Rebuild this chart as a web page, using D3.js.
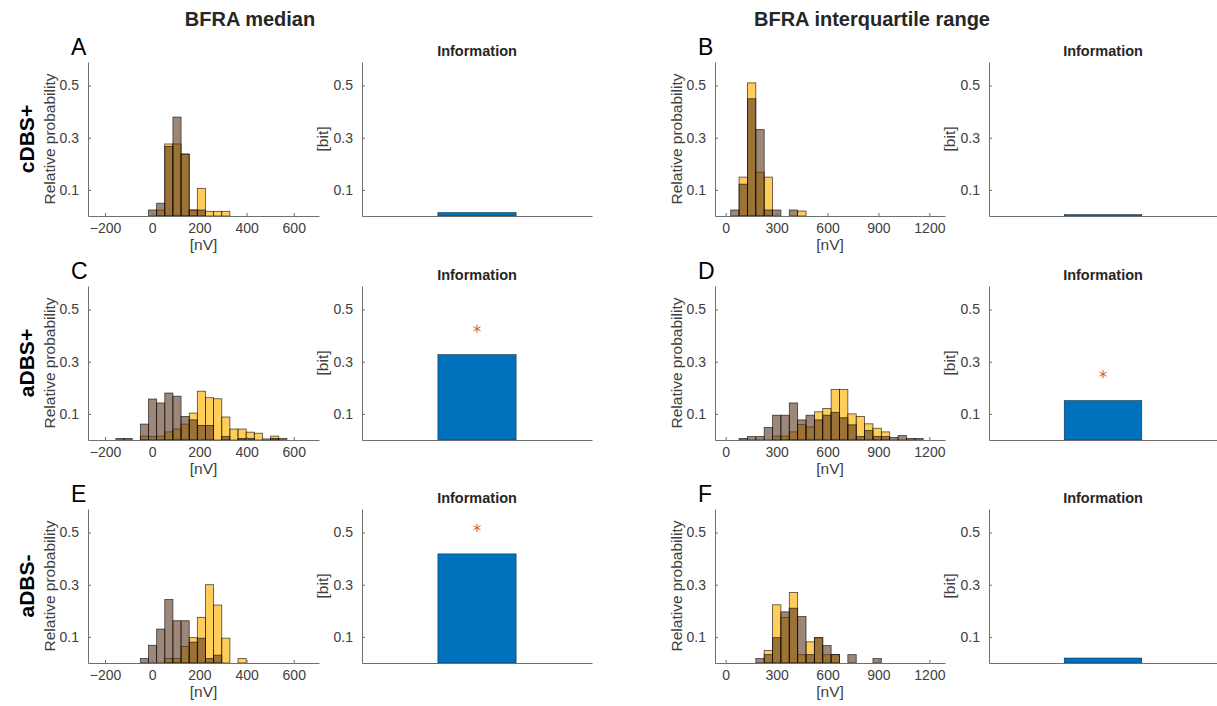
<!DOCTYPE html>
<html>
<head>
<meta charset="utf-8">
<script src="https://cdn.jsdelivr.net/npm/d3@7"></script>
<style>
  body { margin: 0; background: #fff; }
  svg { display: block; font-family: "Liberation Sans", Arial, sans-serif; }
  .tick text { fill: #404040; }
</style>
</head>
<body>
<div id="chart"></div>
<script>
// labels
var colTitles = ["BFRA median", "BFRA interquartile range"];
var rowNames = ["cDBS+", "aDBS+", "aDBS-"];
var panelLetters = ["A", "B", "C", "D", "E", "F"];

// tick values
var yTicks = [0.1, 0.3, 0.5];
var medianTicks = [-200, 0, 200, 400, 600];
var iqrTicks = [0, 300, 600, 900, 1200];

// histogram bin grids (nV)
var medianFirstEdge = -15.6, medianBinWidth = 34.5;
var iqrFirstEdge = 29.5, iqrBinWidth = 49.3;

// relative probabilities, one value per bin starting at bin index *_start
var histA_start = 0;
var histA_brown  = [0.023, 0.049, 0.267, 0.379, 0.238, 0.023, 0.023, 0, 0, 0];
var histA_yellow = [0, 0.023, 0.276, 0.276, 0.236, 0.023, 0.106, 0.018, 0.018, 0.018];

var histB_start = 0;
var histB_brown  = [0.023, 0.122, 0.449, 0.331, 0.023, 0.023, 0, 0.023, 0];
var histB_yellow = [0, 0.149, 0.51, 0.168, 0.149, 0, 0, 0, 0.019];

var histC_start = -4;
var histC_brown  = [0.006, 0.006, 0, 0.061, 0.157, 0.142, 0.18, 0.168, 0.09, 0.077, 0.056,
                    0.056, 0, 0.013, 0, 0.006, 0.006, 0, 0, 0.006, 0.006];
var histC_yellow = [0, 0, 0, 0.015, 0.013, 0.015, 0.031, 0.042, 0.061, 0.103, 0.187,
                    0.162, 0.158, 0.088, 0.042, 0.042, 0.03, 0.026, 0.004, 0.015, 0];

var histD_start = 1;
var histD_brown  = [0.006, 0.013, 0.013, 0.048, 0.095, 0.095, 0.142, 0.077, 0.095, 0.077, 0.095,
                    0.106, 0.085, 0.058, 0.013, 0.036, 0.013, 0.013, 0.01, 0.017, 0.006, 0.006];
var histD_yellow = [0, 0, 0, 0, 0.015, 0.015, 0.031, 0.06, 0.05, 0.108, 0.121,
                    0.194, 0.194, 0.1, 0.09, 0.062, 0.045, 0.031, 0, 0, 0, 0];

var histE_start = -1;
var histE_brown  = [0.017, 0.068, 0.13, 0.243, 0.162, 0.162, 0.08, 0.095, 0.017, 0.03, 0, 0, 0];
var histE_yellow = [0, 0, 0, 0.017, 0.017, 0.063, 0.097, 0.175, 0.3, 0.222, 0.095, 0, 0.017];

var histF_start = 3;
var histF_brown  = [0.017, 0.032, 0.097, 0.196, 0.21, 0.178, 0.032, 0.097, 0.067, 0.032, 0, 0.032, 0, 0, 0.017];
var histF_yellow = [0, 0.048, 0.223, 0.174, 0.27, 0.032, 0.081, 0.097, 0.032, 0.032, 0, 0, 0, 0, 0];

// information bars [bit] and significance stars
var infoBits = [0.013, 0.005, 0.327, 0.151, 0.418, 0.019];
var infoStars = [null, null, 0.426, 0.252, 0.518, null];

// layout
var svgWidth = 1217, svgHeight = 706;
var rowTop = [62, 286, 509];
var rowBottom = [216, 440, 663];
var histX = [[88, 319], [715, 945]];
var barX = [[362, 592], [989, 1217]];
var histDomain = [[-272, 707], [-63, 1292]];

var axisColor = "#6f6f6f";

var svg = d3.select("#chart").append("svg")
  .attr("width", svgWidth)
  .attr("height", svgHeight);

var panels = [
  {start: histA_start, brown: histA_brown, yellow: histA_yellow},
  {start: histB_start, brown: histB_brown, yellow: histB_yellow},
  {start: histC_start, brown: histC_brown, yellow: histC_yellow},
  {start: histD_start, brown: histD_brown, yellow: histD_yellow},
  {start: histE_start, brown: histE_brown, yellow: histE_yellow},
  {start: histF_start, brown: histF_brown, yellow: histF_yellow}
];

// column titles
colTitles.forEach(function(t, c) {
  var cx = c === 0 ? 250 : 872;
  svg.append("text")
    .attr("x", cx).attr("y", 26)
    .attr("text-anchor", "middle")
    .style("font-size", "20px").style("font-weight", "bold")
    .style("fill", "#262626")
    .text(t);
});

// row labels
rowNames.forEach(function(t, r) {
  var cy = (rowTop[r] + rowBottom[r]) / 2;
  svg.append("text")
    .attr("transform", "translate(34," + cy + ") rotate(-90)")
    .attr("text-anchor", "middle")
    .style("font-size", "21px").style("font-weight", "bold")
    .style("fill", "#000")
    .text(t);
});

function styleAxis(g) {
  g.select(".domain").attr("stroke", axisColor);
  g.selectAll(".tick line").attr("stroke", axisColor);
  g.selectAll(".tick text").style("font-size", "14px");
}

panels.forEach(function(p, i) {
  var row = Math.floor(i / 2), col = i % 2;
  var top = rowTop[row], bottom = rowBottom[row];
  var firstEdge = col === 0 ? medianFirstEdge : iqrFirstEdge;
  var binWidth = col === 0 ? medianBinWidth : iqrBinWidth;

  var x = d3.scaleLinear().domain(histDomain[col]).range(histX[col]);
  var y = d3.scaleLinear().domain([0, 0.59]).range([bottom, top]);

  function bins(values) {
    return values.map(function(v, j) {
      var k = p.start + j;
      return {x0: firstEdge + k * binWidth, x1: firstEdge + (k + 1) * binWidth, v: v};
    }).filter(function(d) { return d.v > 0; });
  }

  var g = svg.append("g");

  // yellow first, brown drawn over it
  g.selectAll("rect.yellow")
    .data(bins(p.yellow))
    .enter().append("rect")
    .attr("class", "yellow")
    .attr("x", function(d) { return x(d.x0); })
    .attr("width", function(d) { return x(d.x1) - x(d.x0); })
    .attr("y", function(d) { return y(d.v); })
    .attr("height", function(d) { return y(0) - y(d.v); })
    .attr("fill", "rgb(255,185,20)").attr("fill-opacity", 0.7)
    .attr("stroke", "#000").attr("stroke-opacity", 0.7).attr("stroke-width", 0.8);

  g.selectAll("rect.brown")
    .data(bins(p.brown))
    .enter().append("rect")
    .attr("class", "brown")
    .attr("x", function(d) { return x(d.x0); })
    .attr("width", function(d) { return x(d.x1) - x(d.x0); })
    .attr("y", function(d) { return y(d.v); })
    .attr("height", function(d) { return y(0) - y(d.v); })
    .attr("fill", "rgb(90,55,30)").attr("fill-opacity", 0.6)
    .attr("stroke", "#000").attr("stroke-opacity", 0.7).attr("stroke-width", 0.8);

  // axes
  g.append("g")
    .attr("transform", "translate(0," + bottom + ")")
    .call(d3.axisBottom(x).tickValues(col === 0 ? medianTicks : iqrTicks)
      .tickFormat(d3.format("d"))
      .tickSize(-3).tickSizeOuter(0).tickPadding(7))
    .call(styleAxis);

  g.append("g")
    .attr("transform", "translate(" + histX[col][0] + ",0)")
    .call(d3.axisLeft(y).tickValues(yTicks).tickFormat(d3.format(".1f"))
      .tickSize(-3).tickSizeOuter(0).tickPadding(9))
    .call(styleAxis);

  g.append("text")
    .attr("transform", "translate(" + (histX[col][0] - 33) + "," + ((top + bottom) / 2) + ") rotate(-90)")
    .attr("text-anchor", "middle")
    .style("font-size", "15.5px").style("fill", "#404040")
    .text("Relative probability");

  g.append("text")
    .attr("x", (histX[col][0] + histX[col][1]) / 2)
    .attr("y", bottom + 34)
    .attr("text-anchor", "middle")
    .style("font-size", "15.5px").style("fill", "#404040")
    .text("[nV]");

  g.append("text")
    .attr("x", col === 0 ? 71 : 698)
    .attr("y", top - 7)
    .style("font-size", "23px").style("fill", "#000")
    .text(panelLetters[i]);

  // information bar panel
  var bx = d3.scaleLinear().domain([0, 2]).range(barX[col]);
  var bg = svg.append("g");

  bg.selectAll("rect.info")
    .data([infoBits[i]])
    .enter().append("rect")
    .attr("class", "info")
    .attr("x", bx(1 - 0.34))
    .attr("width", bx(1 + 0.34) - bx(1 - 0.34))
    .attr("y", function(d) { return y(d); })
    .attr("height", function(d) { return y(0) - y(d); })
    .attr("fill", "#0072BD")
    .attr("stroke", "#10304a").attr("stroke-width", 0.6);

  if (infoStars[i] !== null) {
    bg.append("path")
      .attr("d", d3.symbol().type(d3.symbolAsterisk).size(45)())
      .attr("transform", "translate(" + bx(1) + "," + y(infoStars[i]) + ")")
      .attr("fill", "none")
      .attr("stroke", "#D95319").attr("stroke-width", 1);
  }

  bg.append("g")
    .attr("transform", "translate(0," + bottom + ")")
    .call(d3.axisBottom(bx).tickValues([]).tickSizeOuter(0))
    .call(styleAxis);

  bg.append("g")
    .attr("transform", "translate(" + barX[col][0] + ",0)")
    .call(d3.axisLeft(y).tickValues(yTicks).tickFormat(d3.format(".1f"))
      .tickSize(-3).tickSizeOuter(0).tickPadding(9))
    .call(styleAxis);

  bg.append("text")
    .attr("transform", "translate(" + (barX[col][0] - 34) + "," + ((top + bottom) / 2) + ") rotate(-90)")
    .attr("text-anchor", "middle")
    .style("font-size", "15.5px").style("fill", "#404040")
    .text("[bit]");

  bg.append("text")
    .attr("x", (barX[col][0] + barX[col][1]) / 2)
    .attr("y", top - 6)
    .attr("text-anchor", "middle")
    .style("font-size", "14.5px").style("font-weight", "bold")
    .style("fill", "#262626")
    .text("Information");
});
</script>
</body>
</html>
